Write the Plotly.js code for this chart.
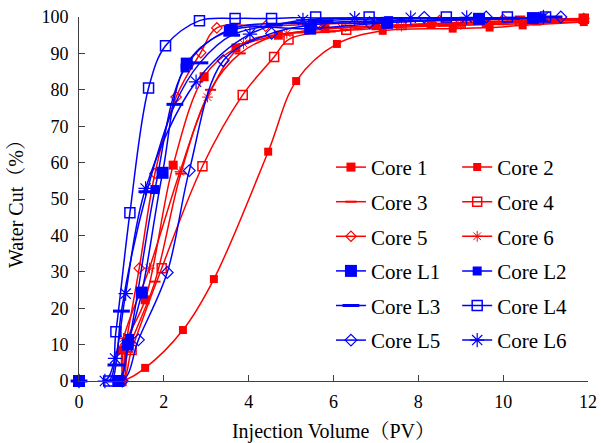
<!DOCTYPE html>
<html><head><meta charset="utf-8">
<script src="https://cdn.plot.ly/plotly-3.0.1.min.js"></script>
<style>body{margin:0;padding:0;background:#fff}#chart{width:601px;height:443px}</style>
</head><body><div id="chart"></div>
<script>
const names = ["Core 1","Core 2","Core 3","Core 4","Core 5","Core 6","Core L1","Core L2","Core L3","Core L4","Core L5","Core L6"];
const core1X = [0,0.95,1.02,1.56,2.22,2.95,3.7,4.7,5.8,7.0,8.3,9.6,10.8,11.9];
const core1Y = [0,0,8.5,22.3,59.3,83.6,91.5,95,96.8,97.6,98.1,98.5,98.9,99.3];
const core2X = [0,1.0,1.56,2.45,3.18,4.46,5.12,6.08,7.16,8.81,9.68,10.46,11.9];
const core2Y = [0,0,3.6,14,28,63,82.4,92.6,96.2,96.8,97.1,97.7,98.6];
const core3X = [0,1.0,1.15,1.79,2.4,3.1,3.8,4.62,5.92,7.2,8.6,10.0,11.9];
const core3Y = [0,0,8,27.3,57,80,90,94.8,96,97,97.6,98,98.7];
const core4X = [0,1.0,1.24,1.95,2.91,3.86,4.6,4.94,6.3,7.6,9.0,10.4,11.9];
const core4Y = [0,0,8.5,31,59,78.6,89,93.8,96.5,97.8,98.5,99,99.5];
const core5X = [0,0.95,1.1,1.42,1.79,2.29,2.87,3.25,4.4,5.6,7.0,8.5,10.0,11.9];
const core5Y = [0,0,10,31,57,78,90.2,97,97.5,98,98.5,99,99.3,99.6];
const core6X = [0,0.95,1.05,1.66,2.38,3.03,3.88,4.9,6.2,7.6,9.0,10.5,11.9];
const core6Y = [0,0,11.7,31,57.5,78,92.7,95.5,97,97.5,98,98.5,99.2];
const coreL1X = [0,0.93,1.15,1.48,1.97,2.54,3.6,5.45,7.26,9.43,10.7];
const coreL1Y = [0,0,10,24.3,57.2,87.2,96.4,96.8,98.4,99.5,99.7];
const coreL2X = [0,0.9,1.19,1.79,2.5,3.52,5.5,7.3,9.4,10.9];
const coreL2Y = [0,0,11.7,52.6,86,96.4,98.3,99,99.3,99.8];
const coreL3X = [0,0.75,0.87,1.0,1.6,2.26,2.85,3.6,4.6,5.8,7.2,8.6,10.2,11.2];
const coreL3Y = [0,0,4.4,19.2,52,76,87.4,95,97.8,99,99.5,99.6,99.7,100];
const coreL4X = [0,0.7,0.87,1.2,1.64,2.04,2.84,3.68,4.54,5.58,6.84,8.66,10.1,11.0];
const coreL4Y = [0,0,13.5,46.2,80.5,92.1,99,99.6,99.6,100,100,100,100,100];
const coreL5X = [0,1.02,1.4,2.08,2.6,3.4,4.54,5.68,6.85,8.14,9.6,11.36];
const coreL5Y = [0,0,11.3,29.8,57.8,88,95.5,98.1,98.4,99.9,100,100];
const coreL6X = [0,0.61,0.85,1.1,1.57,2.76,4.03,5.28,6.5,7.82,9.14,10.95];
const coreL6Y = [0,0,6.2,24,52.9,82.2,95.3,99.2,99.7,99.8,99.9,100];

const xs = [core1X,core2X,core3X,core4X,core5X,core6X,coreL1X,coreL2X,coreL3X,coreL4X,coreL5X,coreL6X];
const ys = [core1Y,core2Y,core3Y,core4Y,core5Y,core6Y,coreL1Y,coreL2Y,coreL3Y,coreL4Y,coreL5Y,coreL6Y];
const RED = "#FF0000", BLUE = "#0000FF";
const styles = [
  {c:RED, sym:"square", size:9},
  {c:RED, sym:"square", size:8},
  {c:RED, sym:"line-ew", size:8, lw:2},
  {c:RED, sym:"square-open", size:9, lw:1.5},
  {c:RED, sym:"diamond-open", size:8, lw:1.2},
  {c:RED, sym:"asterisk-open", size:9, lw:1},
  {c:BLUE, sym:"square", size:12},
  {c:BLUE, sym:"square", size:9},
  {c:BLUE, sym:"line-ew", size:12, lw:3},
  {c:BLUE, sym:"square-open", size:10, lw:1.5},
  {c:BLUE, sym:"diamond-open", size:9, lw:1.2},
  {c:BLUE, sym:"asterisk-open", size:12, lw:1.2}
];
const traces = names.map((n,i)=>{
  const s = styles[i];
  const marker = {symbol:s.sym, size:s.size, color:s.c};
  if (s.lw) {
    marker.line = {color:s.c, width:s.lw};
  } else {
    marker.line = {width:0};
  }
  return {
    x: xs[i], y: ys[i], name: n, type: "scatter", mode: "lines+markers",
    line: {color:s.c, width:1.5, shape:"spline", smoothing:1},
    marker: marker, cliponaxis:false,
    legend: (i%2===0) ? "legend" : "legend2",
    legendgroup: "g"+i
  };
});
const legStyle = {
  font:{family:"Liberation Serif, Times New Roman, serif", size:21, color:"#000"},
  bgcolor:"rgba(0,0,0,0)", borderwidth:0, tracegroupgap:4.3,
  xanchor:"left", yanchor:"top", traceorder:"grouped", itemwidth:30
};
const layout = {
  width:601, height:443,
  margin:{l:79, r:13, t:17, b:62},
  paper_bgcolor:"#fff", plot_bgcolor:"#fff",
  showlegend:true,
  font:{family:"Liberation Serif, Times New Roman, serif", size:18, color:"#000"},
  xaxis:{
    range:[0,12], dtick:2, tick0:0, showgrid:false, zeroline:false,
    showline:true, linecolor:"#404040", linewidth:1,
    ticks:"inside", ticklen:6, tickcolor:"#404040", ticklabelstandoff:4,
    tickfont:{family:"Liberation Serif, serif", size:18, color:"#000"},
    title:{text:"Injection Volume（PV）", font:{family:"Liberation Serif, Noto Serif CJK SC, serif", size:20, color:"#000"}, standoff:14}
  },
  yaxis:{
    range:[0,100], dtick:10, tick0:0, showgrid:false, zeroline:false,
    showline:true, linecolor:"#404040", linewidth:1,
    ticks:"inside", ticklen:6, tickcolor:"#404040", ticklabelstandoff:6,
    tickfont:{family:"Liberation Serif, serif", size:18, color:"#000"},
    title:{text:"Water Cut（%）", font:{family:"Liberation Serif, Noto Serif CJK SC, serif", size:20, color:"#000"}, standoff:12}
  },
  legend: Object.assign({x:0.495, y:0.643}, legStyle),
  legend2: Object.assign({x:0.743, y:0.643}, legStyle)
};
Plotly.newPlot("chart", traces, layout, {displayModeBar:false, staticPlot:true});
</script></body></html>
